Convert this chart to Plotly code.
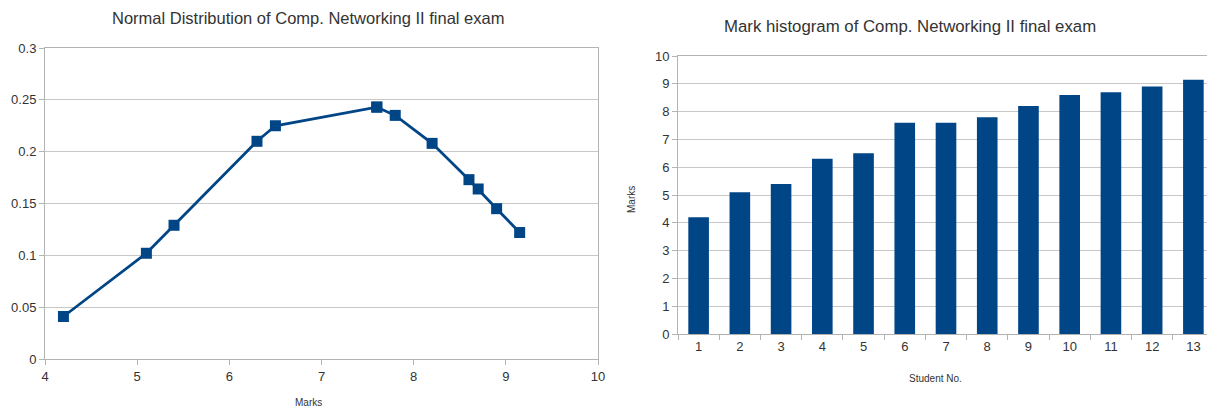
import plotly.graph_objects as go

marks_x = [4.2, 5.1, 5.4, 6.3, 6.5, 7.6, 7.6, 7.8, 8.2, 8.6, 8.7, 8.9, 9.15]
density_y = [0.041, 0.102, 0.129, 0.210, 0.225, 0.243, 0.243, 0.235, 0.208, 0.173, 0.164, 0.145, 0.122]

student_no = [str(i) for i in range(1, 14)]
student_marks = [4.2, 5.1, 5.4, 6.3, 6.5, 7.6, 7.6, 7.8, 8.2, 8.6, 8.7, 8.9, 9.15]

left_title = "Normal Distribution of Comp. Networking II final exam"
right_title = "Mark histogram of Comp. Networking II final exam"

OFF = 8  # page body margin
W, H = 1215 - OFF, 410 - OFF
BLUE = "#004586"
GRID = "#c8c8c8"
AX = "#b3b3b3"
FONT = "Liberation Sans, Arial, sans-serif"
TXT = "#333333"

fig = go.Figure()
fig.add_trace(go.Scatter(x=marks_x, y=density_y, mode="lines+markers",
                         line=dict(color=BLUE, width=2.8),
                         marker=dict(symbol="square", size=11, color=BLUE),
                         xaxis="x", yaxis="y", showlegend=False))
fig.add_trace(go.Bar(x=student_no, y=student_marks, marker=dict(color=BLUE, line=dict(width=0)),
                     xaxis="x2", yaxis="y2", showlegend=False))

def px_x(p):
    return (p - OFF) / W

def px_y(p):
    return 1 - (p - OFF) / H

common = dict(showline=True, linecolor=AX, linewidth=1, gridcolor=GRID, gridwidth=1,
              tickfont=dict(family=FONT, size=13, color=TXT), zeroline=False,
              ticks="outside", tickcolor=AX, ticklen=5, automargin=False)

fig.update_layout(
    width=W, height=H,
    margin=dict(l=0, r=0, t=0, b=0),
    paper_bgcolor="white", plot_bgcolor="white",
    font=dict(family=FONT, color=TXT),
    bargap=0.5,
    xaxis=dict(domain=[px_x(45), px_x(598)], range=[4, 10], dtick=1, showgrid=False,
               mirror=True, anchor="y", **common),
    yaxis=dict(domain=[px_y(359), px_y(48)], range=[0, 0.3], dtick=0.05, anchor="x",
               mirror=True, showgrid=True, **common),
    xaxis2=dict(domain=[px_x(678), px_x(1214)], anchor="y2", showgrid=False,
                tickson="boundaries", mirror=True, **common),
    yaxis2=dict(domain=[px_y(334), px_y(56)], range=[0, 10], dtick=1, anchor="x2",
                mirror=True, showgrid=True, **common),
    annotations=[
        dict(text=left_title, x=px_x(308), y=px_y(18), xref="paper", yref="paper",
             showarrow=False, font=dict(family=FONT, size=16.5, color=TXT),
             xanchor="center", yanchor="middle"),
        dict(text=right_title, x=px_x(910), y=px_y(26), xref="paper", yref="paper",
             showarrow=False, font=dict(family=FONT, size=16.8, color=TXT),
             xanchor="center", yanchor="middle"),
        dict(text="Marks", x=px_x(308), y=px_y(402), xref="paper", yref="paper",
             showarrow=False, font=dict(family=FONT, size=10, color=TXT),
             xanchor="center", yanchor="middle"),
        dict(text="Student No.", x=px_x(935), y=px_y(378), xref="paper", yref="paper",
             showarrow=False, font=dict(family=FONT, size=10, color=TXT),
             xanchor="center", yanchor="middle"),
        dict(text="Marks", x=px_x(631), y=px_y(200), xref="paper", yref="paper",
             showarrow=False, font=dict(family=FONT, size=10, color=TXT), textangle=-90,
             xanchor="center", yanchor="middle"),
    ],
)

fig.write_html("out.html")
